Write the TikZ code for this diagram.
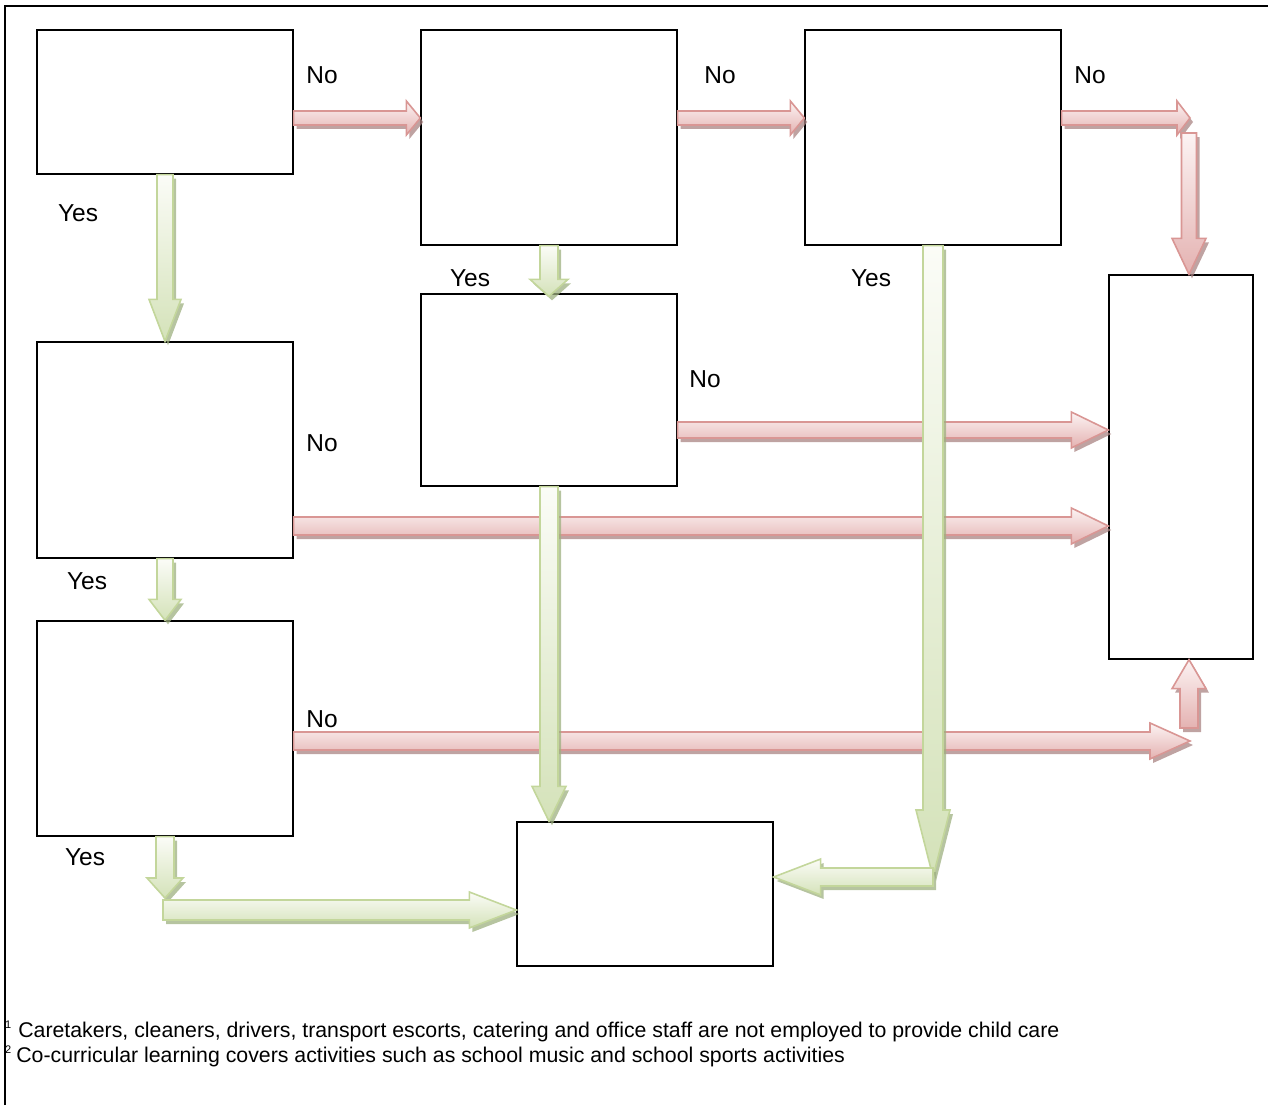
\documentclass[tikz,border=0pt]{standalone}
\usepackage{fontspec}
\setmainfont{Liberation Sans}
\usetikzlibrary{calc}

\definecolor{noLine}{RGB}{217,150,148}
\definecolor{noLight}{RGB}{252,243,243}
\definecolor{noDark}{RGB}{228,178,177}
\definecolor{noShade}{RGB}{170,132,131}
\definecolor{yesLine}{RGB}{195,214,155}
\definecolor{yesLight}{RGB}{251,252,247}
\definecolor{yesDark}{RGB}{212,226,185}
\definecolor{yesShade}{RGB}{158,176,128}

% block arrow: style, from, to, half shaft, half head, head length
\newcommand{\arrowpath}[6]{%
  \path[#1] let \p1=(#2), \p2=(#3),
      \n1={veclen(\x2-\x1,\y2-\y1)},
      \n2={(\x2-\x1)/\n1}, \n3={(\y2-\y1)/\n1}
    in ({\x1-(#4)*(\n3)},{\y1+(#4)*(\n2)})
    -- ({\x2-(#6)*(\n2)-(#4)*(\n3)},{\y2-(#6)*(\n3)+(#4)*(\n2)})
    -- ({\x2-(#6)*(\n2)-(#5)*(\n3)},{\y2-(#6)*(\n3)+(#5)*(\n2)})
    -- (\p2)
    -- ({\x2-(#6)*(\n2)+(#5)*(\n3)},{\y2-(#6)*(\n3)-(#5)*(\n2)})
    -- ({\x2-(#6)*(\n2)+(#4)*(\n3)},{\y2-(#6)*(\n3)-(#4)*(\n2)})
    -- ({\x1+(#4)*(\n3)},{\y1-(#4)*(\n2)}) -- cycle;}
\newcommand{\blockarrow}[6]{%
  \begin{scope}[transform canvas={xshift=3pt,yshift=-4pt}]
    \arrowpath{#1Shadow}{#2}{#3}{#4}{#5}{#6}
  \end{scope}
  \arrowpath{#1Arrow}{#2}{#3}{#4}{#5}{#6}}
\newcommand{\fnmark}[1]{\raisebox{9pt}{\fontsize{11}{11}\selectfont #1}}

\begin{document}
\begin{tikzpicture}[x=1pt, y=-1pt]
    % Define styles for boxes, arrows and labels
    \tikzstyle{box} = [rectangle, draw=black, line width=1.3pt, minimum width=256pt]
    \tikzstyle{lbl} = [inner sep=0pt, font=\fontsize{24.5}{28}\selectfont]
    \tikzstyle{foot} = [inner sep=0pt, anchor=base west, font=\fontsize{21.3}{24}\selectfont]
    \tikzset{noArrow/.style={draw=noLine, line width=1.6pt, line join=miter,
        top color=noLight, bottom color=noDark}}
    \tikzset{noShadow/.style={fill=noShade, opacity=0.75}}
    \tikzset{yesArrow/.style={draw=yesLine, line width=1.6pt, line join=miter,
        top color=yesLight, bottom color=yesDark}}
    \tikzset{yesShadow/.style={fill=yesShade, opacity=0.75}}
    \useasboundingbox (0,0) rectangle (1268,1105);
    % Frame
    \draw [line width=1.3pt] (5,1105) -- (5,6) -- (1268,6);
    % Boxes
    \node (q1) [box, minimum height=144pt] at (165,102) {};
    \node (q2) [box, minimum height=215pt] at (549,137.5) {};
    \node (q3) [box, minimum height=215pt] at (933,137.5) {};
    \node (q4) [box, minimum height=216pt] at (165,450) {};
    \node (q5) [box, minimum height=192pt] at (549,390) {};
    \node (q6) [box, minimum height=215pt] at (165,728.5) {};
    \node (resNo) [box, minimum width=144pt, minimum height=384pt] at (1181,467) {};
    \node (resYes) [box, minimum height=144pt] at (645,894) {};
    % Bends
    \coordinate (topRow) at ([yshift=-16]q1.east);
    \coordinate (bendNo) at (1190,118);
    \coordinate (bendLow) at (1190,741);
    \coordinate (footNo) at (1189,728);
    \coordinate (bendYes) at (933,877);
    \coordinate (bendLeft) at (165,898);
    % No arrows
    \blockarrow{no}{topRow}{q2.west |- topRow}{7}{17}{14}
    \blockarrow{no}{q2.east |- topRow}{q3.west |- topRow}{7}{17}{14}
    \blockarrow{no}{q3.east |- topRow}{bendNo}{7}{17}{13}
    \blockarrow{no}{[xshift=-1, yshift=-15]bendNo}{footNo |- resNo.north}{7.5}{17}{36}
    \blockarrow{no}{[yshift=-40]q5.east}{resNo.west |- 0,430}{8}{18}{37}
    \blockarrow{no}{[yshift=-76]q4.east}{resNo.west |- 0,526}{9}{18}{37}
    \blockarrow{no}{q6.east |- bendLow}{bendLow}{9}{18}{40}
    \blockarrow{no}{footNo}{footNo |- resNo.south}{9}{17}{29}
    % Yes arrows
    \blockarrow{yes}{q1.south}{q4.north}{8}{16}{42}
    \blockarrow{yes}{q2.south}{[yshift=-3]q5.north}{9}{19}{17}
    \blockarrow{yes}{q3.south}{bendYes}{10}{17}{67}
    \blockarrow{yes}{bendYes}{resYes.east |- bendYes}{9}{18}{47}
    \blockarrow{yes}{q5.south}{q5.south |- resYes.north}{9}{17}{35}
    \blockarrow{yes}{q4.south}{q6.north}{8}{16}{21}
    \blockarrow{yes}{q6.south}{bendLeft}{9}{18}{20}
    \blockarrow{yes}{[xshift=-2, yshift=-12]bendLeft}{resYes.west |- 0,910}{10}{18}{47}
    % Labels
    \node (no1) [lbl] at (322,75) {No};
    \node (no2) [lbl] at (720,75) {No};
    \node (no3) [lbl] at (1090,75) {No};
    \node (no4) [lbl] at (705,379) {No};
    \node (no5) [lbl] at (322,443) {No};
    \node (no6) [lbl] at (322,719) {No};
    \node (yes1) [lbl] at (78,213) {Yes};
    \node (yes2) [lbl] at (470,278) {Yes};
    \node (yes3) [lbl] at (871,278) {Yes};
    \node (yes4) [lbl] at (87,581) {Yes};
    \node (yes5) [lbl] at (85,857) {Yes};
    % Footnotes
    \node (fn1) [foot] at (5,1037) {\fnmark{1}\hspace{7pt}Caretakers, cleaners, drivers, transport escorts, catering and office staff are not employed to provide child care};
    \node (fn2) [foot] at (5,1062) {\fnmark{2}\hspace{5pt}Co-curricular learning covers activities such as school music and school sports activities};
\end{tikzpicture}
\end{document}
